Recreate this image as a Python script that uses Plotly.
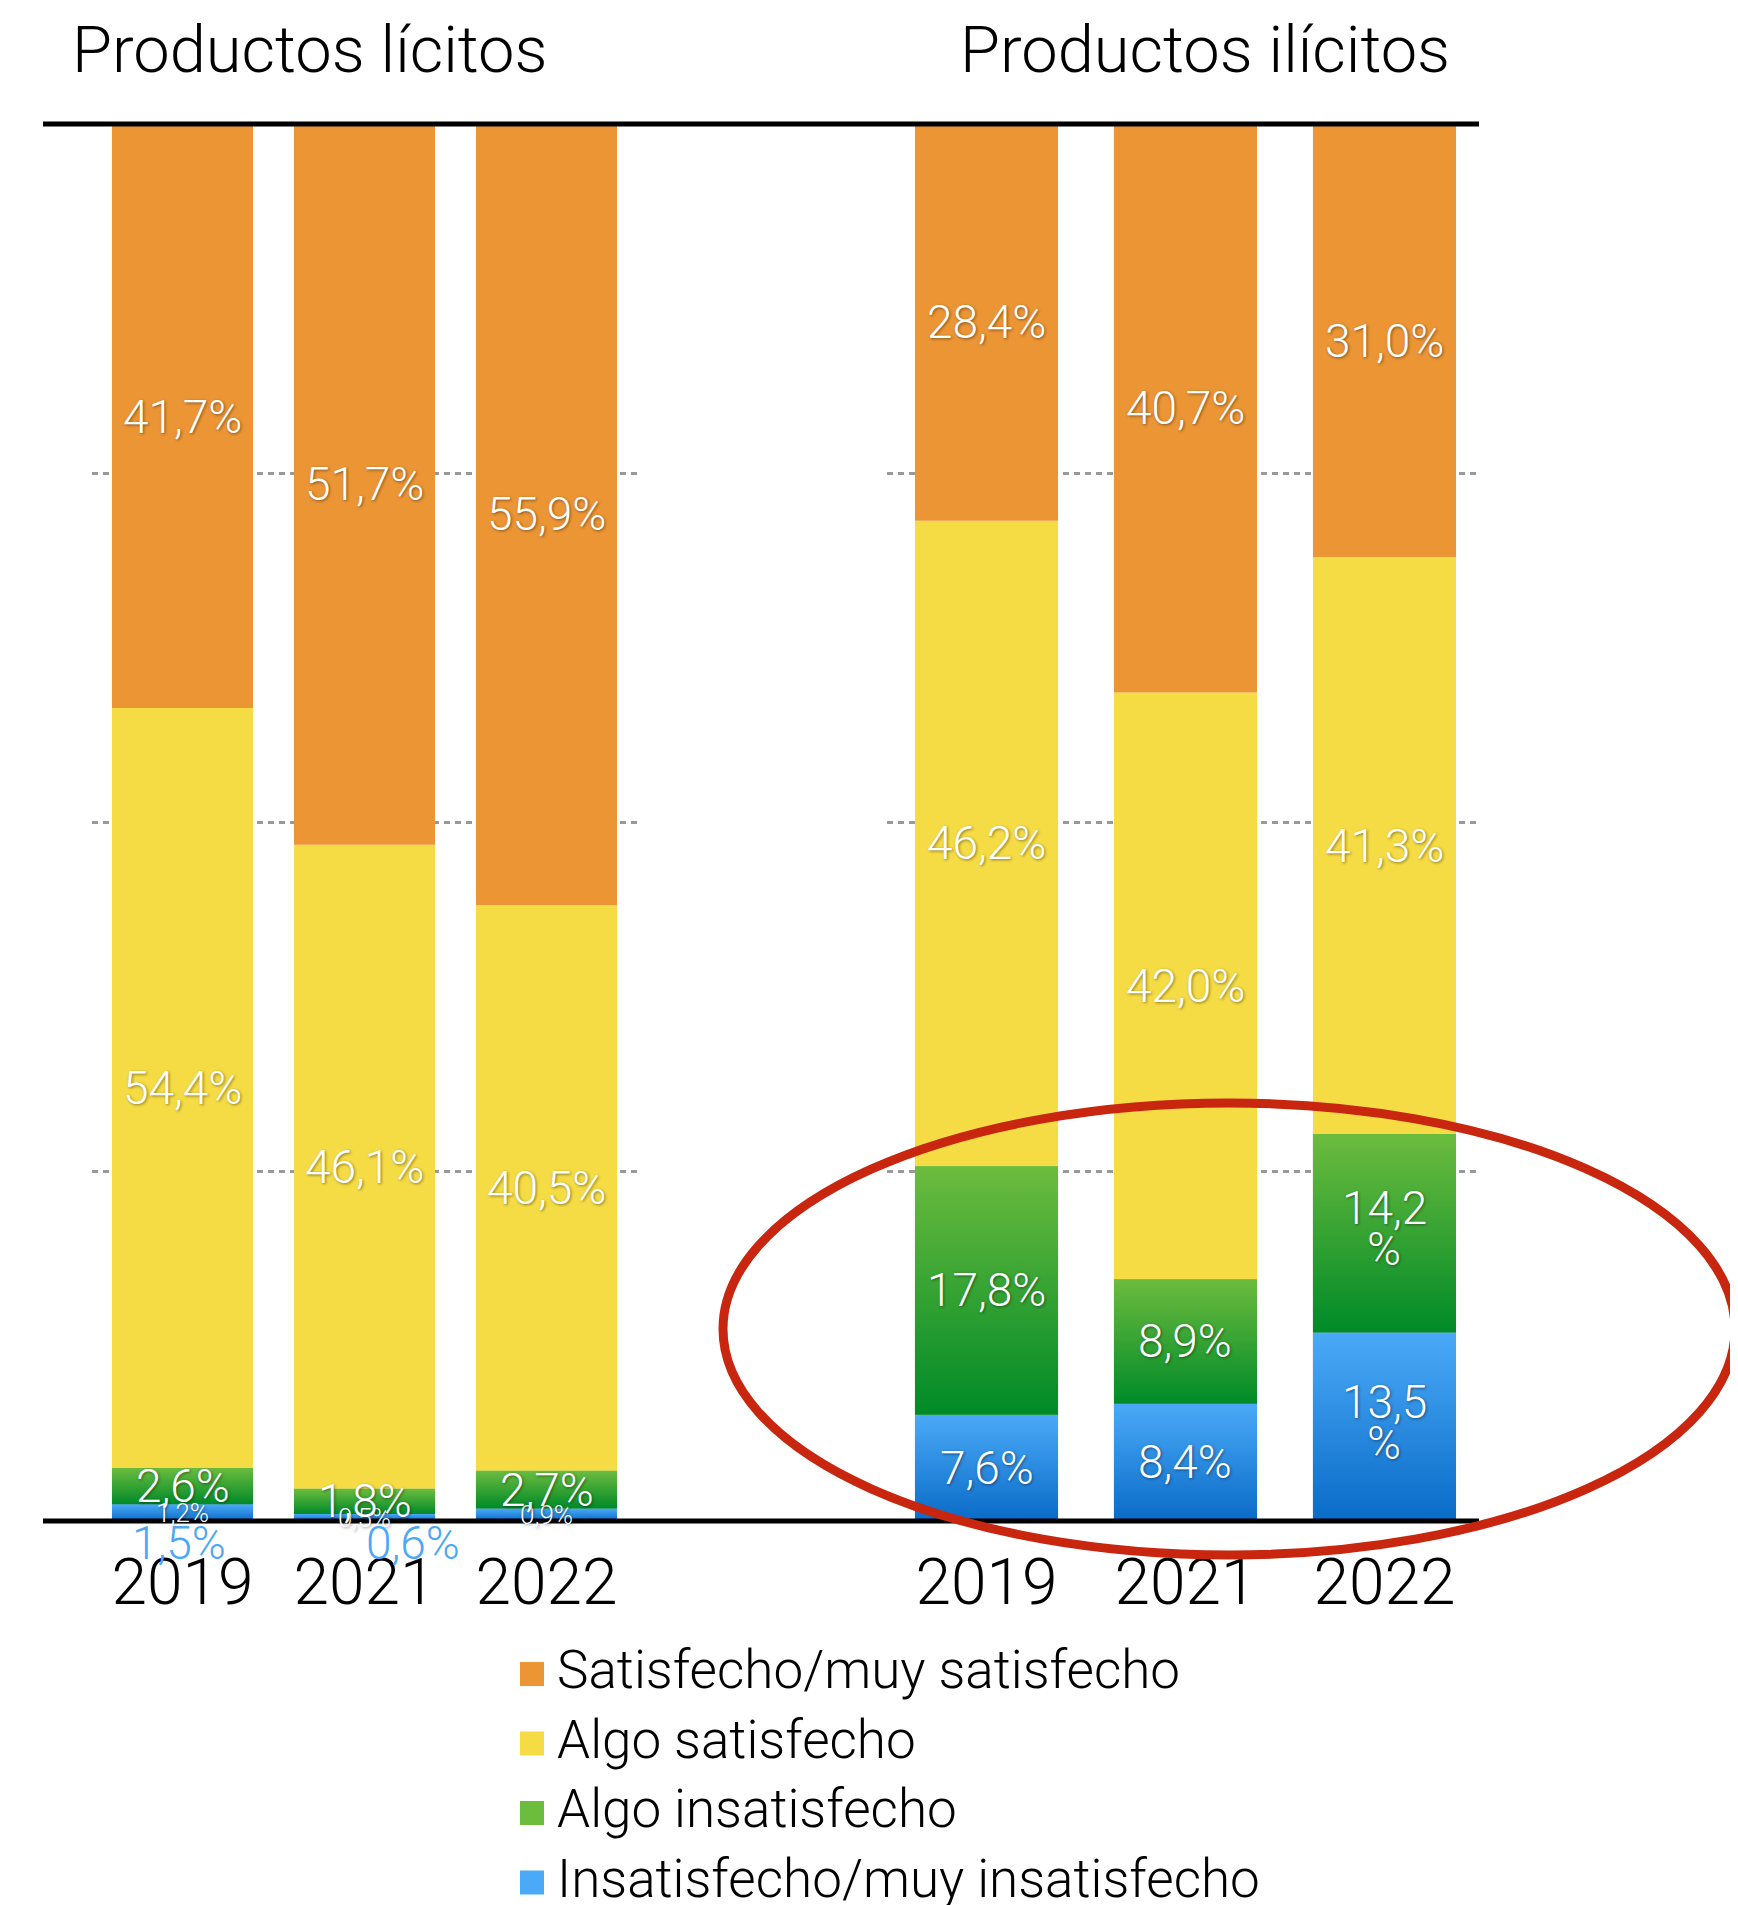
import plotly.graph_objects as go

OFF = 8                      # margen del <body> en la página
W, H = 1738 - OFF, 1905 - OFF
TOP, BOTTOM = 124, 1521      # píxeles de pantalla del 100% y del 0%

years = ["2019", "2021", "2022"]
categories = [
    "Satisfecho/muy satisfecho",
    "Algo satisfecho",
    "Algo insatisfecho",
    "Insatisfecho/muy insatisfecho",
]
panel_titles = ["Productos lícitos", "Productos ilícitos"]

# Productos lícitos
licitos_sat = [41.7, 51.7, 55.9]
licitos_algo_sat = [54.4, 46.1, 40.5]
licitos_algo_insat = [2.6, 1.8, 2.7]
licitos_insat = [1.2, 0.5, 0.9]

# Productos ilícitos
ilicitos_sat = [28.4, 40.7, 31.0]
ilicitos_algo_sat = [46.2, 42.0, 41.3]
ilicitos_algo_insat = [17.8, 8.9, 14.2]
ilicitos_insat = [7.6, 8.4, 13.5]

# etiquetas azules sueltas bajo el eje de lícitos (2019 y 2021)
licitos_extra = ["1,5%", "0,6%"]

orange = "#EC9535"
yellow = "#F6DC44"
green = ("#008A28", "#6CBC3E")  # abajo, arriba
blue = ("#0A6BC8", "#4BAAF7")

FONT = "Roboto"
SHADOW = "1px 1px 3px rgba(0,0,0,0.45)"


def px_x(x):
    return (x - OFF) / W


def px_y(y):
    return (BOTTOM - y) / (BOTTOM - TOP)


def fmt(v):
    return f"{v:.1f}".replace(".", ",") + "%"


panels = [
    dict(series=[licitos_insat, licitos_algo_insat, licitos_algo_sat, licitos_sat],
         xa="x", ya="y", width=0.775),
    dict(series=[ilicitos_insat, ilicitos_algo_insat, ilicitos_algo_sat, ilicitos_sat],
         xa="x2", ya="y2", width=0.719),
]
# de abajo arriba: insatisfecho, algo insat., algo sat., satisfecho
stack_colors = [blue, green, yellow, orange]
stack_names = categories[::-1]

# etiquetas partidas en dos líneas (panel, año, capa)
wrapped = {(1, 2, 0), (1, 2, 1)}

fig = go.Figure()
annotations = []

for p, panel in enumerate(panels):
    xs = list(range(len(years)))
    base = [0.0] * len(years)
    for k, vals in enumerate(panel["series"]):
        col = stack_colors[k]
        flat = col if isinstance(col, str) else col[1]
        fig.add_trace(go.Bar(
            x=xs, y=vals, base=base, width=panel["width"],
            name=stack_names[k], marker=dict(color=flat, line=dict(width=0)),
            xaxis=panel["xa"], yaxis=panel["ya"], showlegend=False,
            hoverinfo="skip",
        ))
        for i, v in enumerate(vals):
            b, t = base[i], base[i] + v
            if not isinstance(col, str):
                hw = panel["width"] / 2
                fig.add_trace(go.Scatter(
                    x=[i - hw, i + hw, i + hw, i - hw, i - hw],
                    y=[b, b, t, t, b],
                    fill="toself", mode="lines",
                    line=dict(width=0, color="rgba(0,0,0,0)"),
                    fillgradient=dict(type="vertical",
                                      colorscale=[[0, col[0]], [1, col[1]]]),
                    xaxis=panel["xa"], yaxis=panel["ya"],
                    showlegend=False, hoverinfo="skip",
                ))
            font = dict(family=FONT, weight=300, size=26 if v < 1.5 else 46,
                        color="white", shadow=SHADOW)
            txt = fmt(v)
            if (p, i, k) in wrapped:
                parts = [(txt[:-1], 25), ("%", -16)]
            else:
                parts = [(txt, 0)]
            for s, dy in parts:
                annotations.append(dict(
                    x=i, y=(b + t) / 2, xref=panel["xa"], yref=panel["ya"],
                    yshift=dy, text=s, showarrow=False, font=font,
                ))
        base = [b + v for b, v in zip(base, vals)]

# etiquetas azules bajo el eje
for i, (txt, dx) in enumerate(zip(licitos_extra, [-4, 48])):
    annotations.append(dict(
        x=i, y=0, xref="x", yref="y", yanchor="middle", yshift=-22, xshift=dx,
        text=txt, showarrow=False,
        font=dict(family=FONT, weight=300, size=46, color="#4AA8F5"),
    ))

# títulos de los paneles
for t, x0 in zip(panel_titles, [70, 958]):
    annotations.append(dict(
        x=px_x(x0), y=px_y(50), xref="paper", yref="paper",
        xanchor="left", yanchor="middle", text=t, showarrow=False,
        font=dict(family=FONT, weight=300, size=65, color="black"),
    ))

shapes = []
# líneas negras superior e inferior
for yy in [0, 1]:
    shapes.append(dict(type="line", xref="paper", yref="paper",
                       x0=px_x(43), x1=px_x(1479), y0=yy, y1=yy,
                       line=dict(color="black", width=5)))

# leyenda manual
legend_colors = [orange, yellow, green, blue]
for j, (name, col) in enumerate(zip(categories, legend_colors)):
    cy = 1674 + 69.5 * j
    fill = col if isinstance(col, str) else col[1]
    shapes.append(dict(type="rect", xref="paper", yref="paper",
                       x0=px_x(520), x1=px_x(544), y0=px_y(cy + 12), y1=px_y(cy - 12),
                       fillcolor=fill, line=dict(width=0)))
    annotations.append(dict(
        x=px_x(555), y=px_y(cy - 4), xref="paper", yref="paper",
        xanchor="left", yanchor="middle", text=name, showarrow=False,
        font=dict(family=FONT, weight=300, size=53, color="black"),
    ))

# óvalo rojo a mano alzada
shapes.append(dict(type="circle", xref="paper", yref="paper",
                   x0=px_x(723), x1=px_x(1735), y0=px_y(1555), y1=px_y(1103),
                   line=dict(color="#C8260F", width=9), layer="above"))

axis_common = dict(showline=False, zeroline=False, ticks="")
yaxis_common = dict(range=[0, 100], tickvals=[25, 50, 75], showticklabels=False,
                    showgrid=True, gridcolor="#999999", gridwidth=3,
                    griddash="6px,5px", **axis_common)
xaxis_common = dict(tickvals=[0, 1, 2], ticktext=years, showgrid=False,
                    ticklabelstandoff=18,
                    tickfont=dict(family=FONT, weight=300, size=64, color="black"),
                    **axis_common)

fig.update_layout(
    width=W, height=H,
    margin=dict(l=0, r=0, t=TOP - OFF, b=H - (BOTTOM - OFF)),
    paper_bgcolor="white", plot_bgcolor="white",
    barmode="overlay",
    xaxis=dict(domain=[px_x(91.5), px_x(637.5)], range=[-0.5, 2.5], anchor="y",
               **xaxis_common),
    yaxis=dict(domain=[0, 1], anchor="x", **yaxis_common),
    xaxis2=dict(domain=[px_x(887), px_x(1479)], range=[-0.5, 2.475], anchor="y2",
                **xaxis_common),
    yaxis2=dict(domain=[0, 1], anchor="x2", **yaxis_common),
    shapes=shapes,
    annotations=annotations,
    showlegend=False,
)

fig.write_html("out.html")
